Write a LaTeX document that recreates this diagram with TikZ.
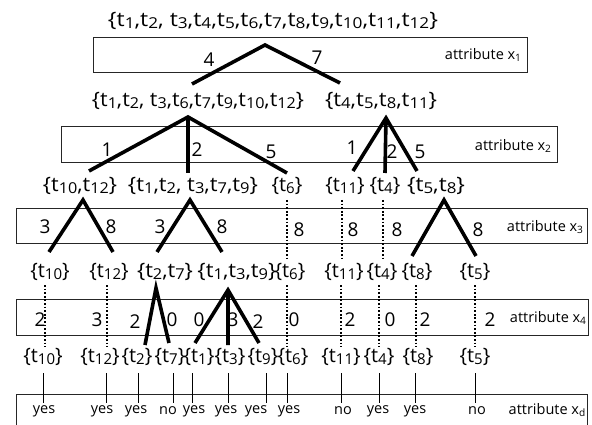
\documentclass[tikz,border=0pt]{standalone}
\usepackage{fontspec}
\setmainfont{Open Sans}
\newcommand\tk[1]{t\raisebox{-0.2ex}{\scalebox{0.75}{#1}}}
\newcommand\sw[2]{\resizebox{#1pt}{\height}{#2}}
\newcommand\xs[1]{x\raisebox{-0.25ex}{\scalebox{0.7}{#1}}}
\tikzset{
  x=1pt, y=-1pt,
  setn/.style={inner sep=0pt, font=\fontsize{20}{20}\selectfont},
  num/.style={inner sep=0pt, font=\fontsize{19}{19}\selectfont},
  attr/.style={inner sep=0pt, font=\fontsize{14.5}{14.5}\selectfont},
  ans/.style={inner sep=0pt, font=\fontsize{14.5}{14.5}\selectfont},
  box/.style={draw=black!85, line width=1pt},
  branch/.style={line width=3.6pt, line join=miter},
  dots/.style={line width=2.2pt, dash pattern=on 1.8pt off 1.8pt},
  leaf/.style={line width=0.9pt}
}
\begin{document}
\begin{tikzpicture}
\useasboundingbox (0,0) rectangle (592,425);
% boxes
\draw[box] (93,38) rectangle (527,73);
\draw[box] (61,127) rectangle (557,163);
\draw[box] (16,208) rectangle (587,243);
\draw[box] (16,299) rectangle (588,335);
\draw[box] (16,430) -- (16,394) -- (587,394) -- (587,430);
% attribute labels
\node[attr] (ax1) at (483,55) {attribute \xs{1}};
\node[attr] (ax2) at (513,146) {attribute \xs{2}};
\node[attr] (ax3) at (545,227) {attribute \xs{3}};
\node[attr] (ax4) at (548,318) {attribute \xs{4}};
\node[attr] (axd) at (547,410) {attribute \xs{d}};
% level 1
\node[setn] (r) at (273,21) {\sw{330}{\{\tk{1},\tk{2}, \tk{3},\tk{4},\tk{5},\tk{6},\tk{7},\tk{8},\tk{9},\tk{10},\tk{11},\tk{12}\}}};
% level 2
\node[setn] (a) at (198,101) {\sw{212}{\{\tk{1},\tk{2}, \tk{3},\tk{6},\tk{7},\tk{9},\tk{10},\tk{12}\}}};
\node[setn] (b) at (381,101) {\sw{112}{\{\tk{4},\tk{5},\tk{8},\tk{11}\}}};
% level 3
\node[setn] (c1) at (80,186) {\sw{74}{\{\tk{10},\tk{12}\}}};
\node[setn] (c2) at (193,186) {\sw{130}{\{\tk{1},\tk{2}, \tk{3},\tk{7},\tk{9}\}}};
\node[setn] (c3) at (287,186) {\{\tk{6}\}};
\node[setn] (c4) at (345,186) {\{\tk{11}\}};
\node[setn] (c5) at (385,186) {\{\tk{4}\}};
\node[setn] (c6) at (436,186) {\sw{58}{\{\tk{5},\tk{8}\}}};
% level 4
\node[setn] (d1) at (50,272) {\{\tk{10}\}};
\node[setn] (d2) at (109,272) {\{\tk{12}\}};
\node[setn] (d3) at (165,272) {\sw{56}{\{\tk{2},\tk{7}\}}};
\node[setn] (d4) at (237,272) {\sw{79}{\{\tk{1},\tk{3},\tk{9}\}}};
\node[setn] (d5) at (290,272) {\{\tk{6}\}};
\node[setn] (d6) at (344,272) {\{\tk{11}\}};
\node[setn] (d7) at (382,272) {\{\tk{4}\}};
\node[setn] (d8) at (417,272) {\{\tk{8}\}};
\node[setn] (d9) at (475,272) {\{\tk{5}\}};
% level 5
\node[setn] (e1) at (43,357) {\{\tk{10}\}};
\node[setn] (e2) at (100,357) {\{\tk{12}\}};
\node[setn] (e3) at (137,357) {\{\tk{2}\}};
\node[setn] (e4) at (170,357) {\{\tk{7}\}};
\node[setn] (e5) at (199,357) {\{\tk{1}\}};
\node[setn] (e6) at (230,357) {\{\tk{3}\}};
\node[setn] (e7) at (263,357) {\{\tk{9}\}};
\node[setn] (e8) at (293,357) {\{\tk{6}\}};
\node[setn] (e9) at (341,357) {\{\tk{11}\}};
\node[setn] (e10) at (379,357) {\{\tk{4}\}};
\node[setn] (e11) at (418,357) {\{\tk{8}\}};
\node[setn] (e12) at (475,357) {\{\tk{5}\}};
% answers
\node[ans] (y1) at (44,411) {yes};
\node[ans] (y2) at (102,411) {yes};
\node[ans] (y3) at (136,411) {yes};
\node[ans] (y4) at (168,411) {no};
\node[ans] (y5) at (194,411) {yes};
\node[ans] (y6) at (226,411) {yes};
\node[ans] (y7) at (256,411) {yes};
\node[ans] (y8) at (289,411) {yes};
\node[ans] (y9) at (343,411) {no};
\node[ans] (y10) at (378,411) {yes};
\node[ans] (y11) at (415,411) {yes};
\node[ans] (y12) at (477,411) {no};
% apex and end coordinates
\coordinate (pr) at (265,45);
\coordinate (pr1) at (192,84); \coordinate (pr2) at (340,83);
\coordinate (pa) at (188,117);
\coordinate (pa1) at (89,171); \coordinate (pa2) at (188,173); \coordinate (pa3) at (287,173);
\coordinate (pb) at (386,118);
\coordinate (pb1) at (353,171); \coordinate (pb2) at (385,173); \coordinate (pb3) at (417,171);
\coordinate (pc1) at (83,200);
\coordinate (pc11) at (49,252); \coordinate (pc12) at (113,252);
\coordinate (pc2) at (190,200);
\coordinate (pc21) at (157,252); \coordinate (pc22) at (222,252);
\coordinate (pc6) at (444,200);
\coordinate (pc61) at (412,256); \coordinate (pc62) at (476,256);
\coordinate (pd3) at (156,288);
\coordinate (pd31) at (145,345); \coordinate (pd32) at (169,343);
\coordinate (pd4) at (228,290);
\coordinate (pd41) at (195,343); \coordinate (pd42) at (228,345); \coordinate (pd43) at (259,343);
% solid branches
\draw[branch] (pr1) -- (pr) -- (pr2);
\draw[branch] (pa1) -- (pa) -- (pa3) (pa) -- (pa2);
\draw[branch] (pb1) -- (pb) -- (pb3) (pb) -- (pb2);
\draw[branch] (pc11) -- (pc1) -- (pc12);
\draw[branch] (pc21) -- (pc2) -- (pc22);
\draw[branch] (pc61) -- (pc6) -- (pc62);
\draw[branch] (pd31) -- (pd3) -- (pd32);
\draw[branch] (pd41) -- (pd4) -- (pd43) (pd4) -- (pd42);
% dotted branches level 3 -> 4
\draw[dots] (287,200) -- (287,260);
\draw[dots] (342,200) -- (342,260);
\draw[dots] (383,200) -- (383,260);
% dotted branches level 4 -> 5
\foreach \xx in {45,107,287,341,379,416,475}
  \draw[dots] (\xx,285) -- (\xx,347);
% leaf lines
\draw[leaf] (43,373) -- (43,403);
\draw[leaf] (106,373) -- (106,403);
\draw[leaf] (138,373) -- (138,403);
\draw[leaf] (173,373) -- (173,403);
\draw[leaf] (192,373) -- (192,403);
\draw[leaf] (228,373) -- (228,403);
\draw[leaf] (266,373) -- (266,403);
\draw[leaf] (287,373) -- (287,403);
\draw[leaf] (341,373) -- (341,403);
\draw[leaf] (379,373) -- (379,403);
\draw[leaf] (415,373) -- (415,403);
\draw[leaf] (475,373) -- (475,403);
% branch labels
\node[num] at (209,60) {4};
\node[num] at (317,58) {7};
\node[num] at (107,150) {1};
\node[num] at (197,150) {2};
\node[num] at (271,152) {5};
\node[num] at (352,148) {1};
\node[num] at (392,152) {2};
\node[num] at (420,152) {5};
\node[num] at (45,227) {3};
\node[num] at (111,227) {8};
\node[num] at (160,227) {3};
\node[num] at (222,227) {8};
\node[num] at (299,230) {8};
\node[num] at (353,230) {8};
\node[num] at (397,230) {8};
\node[num] at (478,230) {8};
\node[num] at (40,320) {2};
\node[num] at (97,320) {3};
\node[num] at (135,322) {2};
\node[num] at (172,320) {0};
\node[num] at (199,320) {0};
\node[num] at (233,320) {3};
\node[num] at (258,322) {2};
\node[num] at (294,320) {0};
\node[num] at (350,320) {2};
\node[num] at (390,320) {0};
\node[num] at (425,320) {2};
\node[num] at (490,320) {2};
\end{tikzpicture}
\end{document}
